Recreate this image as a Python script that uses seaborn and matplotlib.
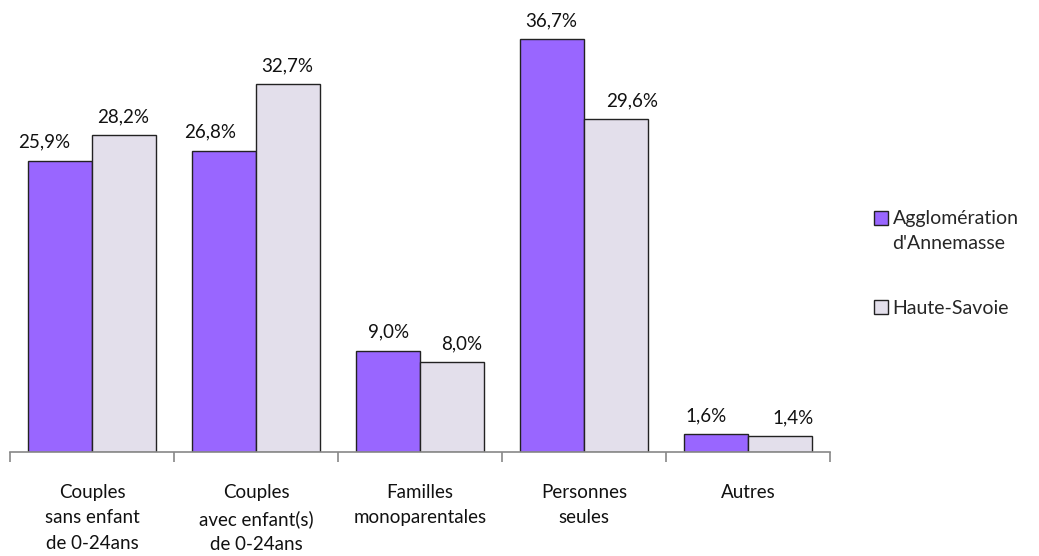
import matplotlib
matplotlib.use("Agg")
import matplotlib.pyplot as plt
from matplotlib.patches import Patch, Rectangle
from matplotlib.legend_handler import HandlerPatch
import seaborn as sns
import pandas as pd

categories = [
    "Couples\nsans enfant\nde 0-24ans",
    "Couples\navec enfant(s)\nde 0-24ans",
    "Familles\nmonoparentales",
    "Personnes\nseules",
    "Autres",
]
series_names = ["Agglomération\nd'Annemasse", "Haute-Savoie"]
annemasse = [25.9, 26.8, 9.0, 36.7, 1.6]
haute_savoie = [28.2, 32.7, 8.0, 29.6, 1.4]
colors = ["#9966FF", "#E3DFEB"]

sns.set_theme(style="white")
plt.rcParams["font.family"] = ["Lato", "DejaVu Sans"]

df = pd.DataFrame({
    "cat": categories * 2,
    "serie": [series_names[0]] * 5 + [series_names[1]] * 5,
    "val": annemasse + haute_savoie,
})

fig = plt.figure(figsize=(10.39, 5.56), dpi=100)
ax = fig.add_axes([0.0096, 0.187, 0.7893, 0.809])

sns.barplot(data=df, x="cat", y="val", hue="serie", order=categories,
            hue_order=series_names, palette=colors, width=0.775,
            edgecolor="#222222", linewidth=1.0, saturation=1, ax=ax,
            legend=False)

# horizontal nudges (pixels) that keep neighbouring value labels apart
nudges = [[-16, -14, 0, -1, -10], [-1, -1, 10, 16, 13]]
for container, vals, dxs in zip(ax.containers, [annemasse, haute_savoie], nudges):
    for bar, v, dx in zip(container.patches, vals, dxs):
        ax.annotate(f"{v:.1f}%".replace(".", ","),
                    xy=(bar.get_x() + bar.get_width() / 2, bar.get_height()),
                    xytext=(dx, 10), textcoords="offset pixels",
                    ha="center", va="bottom", fontsize=13.5, color="#111111")

ax.set_xlim(-0.5, 4.5)
ax.set_ylim(0, 40)
ax.set_xlabel("")
ax.set_ylabel("")
ax.set_yticks([])
for s in ["top", "right", "left"]:
    ax.spines[s].set_visible(False)
ax.spines["bottom"].set_color("#888888")
ax.spines["bottom"].set_linewidth(1.2)

ax.set_xticks(range(5))
ax.set_xticklabels(categories, fontsize=13.5, color="#111111", linespacing=1.6)
ax.tick_params(axis="x", which="major", length=0, pad=23)
ax.set_xticks([i - 0.5 for i in range(6)], minor=True)
ax.tick_params(axis="x", which="minor", length=7, width=1.2, color="#888888",
               direction="out", bottom=True)


class TopAlignedSquare(HandlerPatch):
    """Legend square placed level with the first line of a multi-line label."""

    def __init__(self, shift=0.0, **kw):
        super().__init__(**kw)
        self.shift = shift

    def create_artists(self, legend, orig_handle, xdescent, ydescent,
                       width, height, fontsize, trans):
        p = Rectangle((-xdescent, -ydescent + self.shift), width, height,
                      facecolor=orig_handle.get_facecolor(),
                      edgecolor=orig_handle.get_edgecolor(),
                      linewidth=orig_handle.get_linewidth(), transform=trans)
        return [p]


handles = [Patch(facecolor=c, edgecolor="#222222", linewidth=1.0) for c in colors]
leg = fig.legend(handles, series_names, loc="upper left",
                 bbox_to_anchor=(0.8315, 0.64), frameon=False, fontsize=14,
                 handlelength=0.72, handleheight=0.72, handletextpad=0.25,
                 labelspacing=2.5, borderpad=0,
                 handler_map={handles[0]: TopAlignedSquare(shift=9.5),
                              handles[1]: TopAlignedSquare(shift=0.0)})
for t in leg.get_texts():
    t.set_linespacing(1.55)

fig.savefig("out.png", dpi=100)
